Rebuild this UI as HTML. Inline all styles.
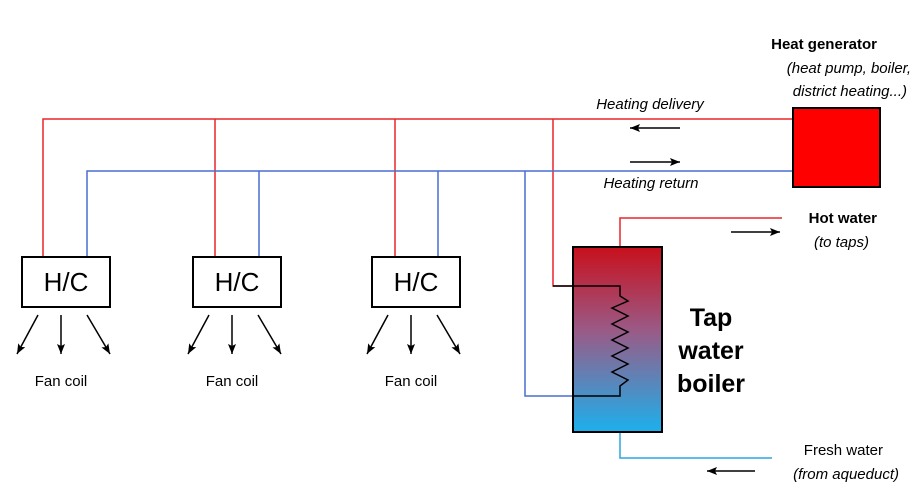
<!DOCTYPE html>
<html><head><style>body{margin:0;background:#fff}svg{display:block}text{font-family:"Liberation Sans",sans-serif}</style></head><body>
<svg width="917" height="497" viewBox="0 0 917 497" xmlns="http://www.w3.org/2000/svg">
<defs>
<linearGradient id="g" x1="0" y1="0" x2="0" y2="1">
<stop offset="0" stop-color="#c8101c"/><stop offset="0.45" stop-color="#9a5a86"/><stop offset="1" stop-color="#1cb0ec"/>
</linearGradient>
<marker id="a" markerWidth="12" markerHeight="10" refX="10" refY="5" orient="auto" markerUnits="userSpaceOnUse"><path d="M0,1 L10,5 L0,9 L2,5 Z" fill="#000"/></marker>
</defs>
<g fill="none" stroke-width="1.5">
<path d="M43,257 V119 H793 M215,119 V257 M395,119 V257 M553,119 V286 H620" stroke="#e8262c"/>
<path d="M87,257 V171 H793 M259,171 V257 M438,171 V257 M525,171 V396 H620" stroke="#4a6fd0"/>
<path d="M620,247 V218 H782" stroke="#e8262c"/>
<path d="M620,432 V458 H772" stroke="#2aa6e0"/>
</g>
<rect x="573" y="247" width="89" height="185" fill="url(#g)" stroke="#000" stroke-width="2"/>
<path d="M553,286 H620 V296 L628,301 L612,308 L628,316 L612,324 L628,332 L612,340 L628,348 L612,356 L628,364 L612,372 L628,380 L620,386 V396 H573" fill="none" stroke="#000" stroke-width="1.5"/>
<rect x="793" y="108" width="87" height="79" fill="#f00" stroke="#000" stroke-width="2"/>
<g fill="#fff" stroke="#000" stroke-width="2">
<rect x="22" y="257" width="88" height="50"/><rect x="193" y="257" width="88" height="50"/><rect x="372" y="257" width="88" height="50"/>
</g>
<g font-size="26" text-anchor="middle">
<text x="66" y="291">H/C</text><text x="237" y="291">H/C</text><text x="416" y="291">H/C</text>
</g>
<g stroke="#000" stroke-width="1.5" marker-end="url(#a)">
<line x1="38" y1="315" x2="17" y2="354"/><line x1="61" y1="315" x2="61" y2="354"/><line x1="87" y1="315" x2="110" y2="354"/>
<line x1="209" y1="315" x2="188" y2="354"/><line x1="232" y1="315" x2="232" y2="354"/><line x1="258" y1="315" x2="281" y2="354"/>
<line x1="388" y1="315" x2="367" y2="354"/><line x1="411" y1="315" x2="411" y2="354"/><line x1="437" y1="315" x2="460" y2="354"/>
<line x1="680" y1="128" x2="630" y2="128"/><line x1="630" y1="162" x2="680" y2="162"/>
<line x1="731" y1="232" x2="780" y2="232"/><line x1="755" y1="471" x2="707" y2="471"/>
</g>
<g font-size="15" text-anchor="middle">
<text x="61" y="386">Fan coil</text><text x="232" y="386">Fan coil</text><text x="411" y="386">Fan coil</text>
</g>
<g font-size="15" font-style="italic" text-anchor="middle">
<text x="650" y="109">Heating delivery</text>
<text x="651" y="188">Heating return</text>
</g>
<g text-anchor="end" font-size="15">
<text x="877" y="49" font-weight="bold">Heat generator</text>
<text x="911" y="73" font-style="italic">(heat pump, boiler,</text>
<text x="907" y="96" font-style="italic">district heating...)</text>
<text x="877" y="223" font-weight="bold">Hot water</text>
<text x="869" y="247" font-style="italic">(to taps)</text>
<text x="883" y="455">Fresh water</text>
<text x="899" y="479" font-style="italic">(from aqueduct)</text>
</g>
<g font-size="25" font-weight="bold" text-anchor="middle">
<text x="711" y="326">Tap</text><text x="711" y="359">water</text><text x="711" y="392">boiler</text>
</g>
</svg>
</body></html>
